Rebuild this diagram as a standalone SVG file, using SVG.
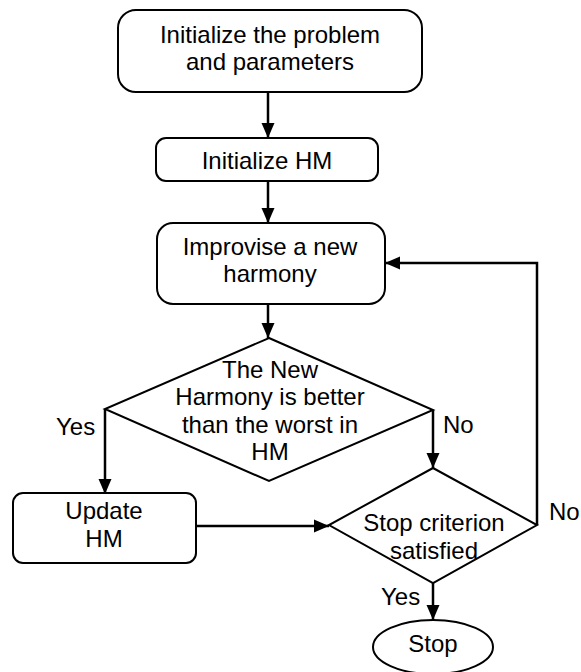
<svg xmlns="http://www.w3.org/2000/svg" width="581" height="672" viewBox="0 0 581 672">
<style>
.s{fill:#fff;stroke:#000;stroke-width:2}
.t{font-family:"Liberation Sans",Arial,sans-serif;font-size:24px;fill:#000;text-anchor:middle}
.l{font-family:"Liberation Sans",Arial,sans-serif;font-size:24px;fill:#000}
.c{fill:none;stroke:#000;stroke-width:2.5}
</style>
<defs>
<marker id="a" markerUnits="userSpaceOnUse" markerWidth="16" markerHeight="16" viewBox="0 0 16 16" refX="15" refY="8" orient="auto">
<path d="M0,1.5 L15,8 L0,14.5 Z" fill="#000"/>
</marker>
</defs>
<rect width="581" height="672" fill="#fff"/>
<g id="connectors">
<path class="c" d="M268,92 V138" marker-end="url(#a)"/>
<path class="c" d="M268,181 V223" marker-end="url(#a)"/>
<path class="c" d="M268,304 V338" marker-end="url(#a)"/>
<path class="c" d="M105,409 V494" marker-end="url(#a)"/>
<path class="c" d="M433,410 V468" marker-end="url(#a)"/>
<path class="c" d="M196,526 H329" marker-end="url(#a)"/>
<path class="c" d="M537,525 V263 H385" marker-end="url(#a)"/>
<path class="c" d="M433,583 V620" marker-end="url(#a)"/>
<text class="l" x="56" y="435">Yes</text>
<text class="l" x="443" y="433">No</text>
<text class="l" x="549" y="520">No</text>
<text class="l" x="381" y="605">Yes</text>
</g>
<g id="init">
<rect class="s" x="118" y="10" width="304" height="82" rx="18"/>
<text class="t" x="270" y="43">Initialize the problem</text>
<text class="t" x="270" y="70">and parameters</text>
</g>
<g id="initHM">
<rect class="s" x="156" y="138" width="222" height="43" rx="10"/>
<text class="t" x="267" y="169">Initialize HM</text>
</g>
<g id="improvise">
<rect class="s" x="157" y="223" width="228" height="81" rx="16"/>
<text class="t" x="270" y="255">Improvise a new</text>
<text class="t" x="270" y="282">harmony</text>
</g>
<g id="better">
<polygon class="s" points="269,338 433,410 269,481 105,409"/>
<text class="t" x="270" y="378">The New</text>
<text class="t" x="270" y="405">Harmony is better</text>
<text class="t" x="270" y="433">than the worst in</text>
<text class="t" x="270" y="460">HM</text>
</g>
<g id="update">
<rect class="s" x="13" y="493" width="183" height="70" rx="10"/>
<text class="t" x="104" y="519">Update</text>
<text class="t" x="104" y="547">HM</text>
</g>
<g id="stopcrit">
<polygon class="s" points="433,468 537,525 433,583 329,525"/>
<text class="t" x="434" y="531">Stop criterion</text>
<text class="t" x="434" y="559">satisfied</text>
</g>
<g id="stop">
<ellipse class="s" cx="433" cy="647" rx="60" ry="27"/>
<text class="t" x="433" y="652">Stop</text>
</g>
</svg>
